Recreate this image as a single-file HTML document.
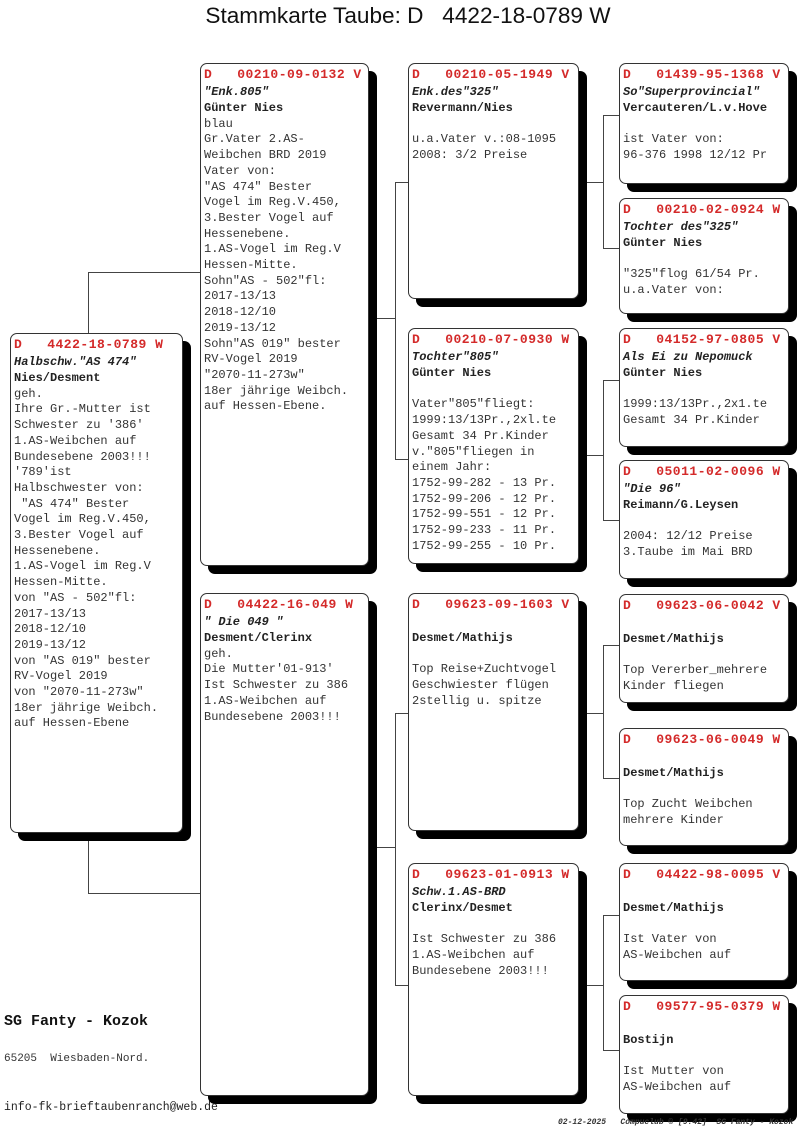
<!DOCTYPE html>
<html><head><meta charset="utf-8"><style>
body{margin:0;width:800px;height:1148px;background:#fff;position:relative;overflow:hidden;font-family:"Liberation Mono",monospace;}
.t{position:absolute;left:0;width:800px;padding-left:16px;box-sizing:border-box;top:3px;text-align:center;font-family:"Liberation Sans",sans-serif;font-size:22.6px;color:#111;white-space:pre;}
.b{position:absolute;border:1px solid #333;border-radius:7px;background:#fff;box-shadow:8px 8px 0 #000;box-sizing:border-box;padding:2px 0 0 3px;font-size:12px;color:#333;white-space:pre;overflow:hidden;}
.b .h{color:#d42a2a;font-weight:bold;font-size:13px;letter-spacing:0.5px;line-height:18px;height:18px;}
.b .i{font-style:italic;font-weight:bold;color:#222;line-height:17px;height:17px;}
.b .p{line-height:15.7px;}
.b .n{font-weight:bold;color:#222;}
.l{position:absolute;background:#444;}
.h1{height:1px}.v1{width:1px}
</style></head><body>
<div class="t">Stammkarte Taube: D   4422-18-0789 W</div>

<div class="l v1" style="left:88px;top:272px;height:62px"></div>
<div class="l h1" style="left:88px;top:272px;width:112px"></div>
<div class="l v1" style="left:88px;top:840px;height:53px"></div>
<div class="l h1" style="left:88px;top:893px;width:112px"></div>

<div class="l h1" style="left:376px;top:318px;width:19px"></div>
<div class="l v1" style="left:395px;top:182px;height:277px"></div>
<div class="l h1" style="left:395px;top:182px;width:13px"></div>
<div class="l h1" style="left:395px;top:459px;width:13px"></div>

<div class="l h1" style="left:376px;top:847px;width:19px"></div>
<div class="l v1" style="left:395px;top:713px;height:272px"></div>
<div class="l h1" style="left:395px;top:713px;width:13px"></div>
<div class="l h1" style="left:395px;top:985px;width:13px"></div>

<div class="l h1" style="left:586px;top:182px;width:17px"></div>
<div class="l v1" style="left:603px;top:115px;height:133px"></div>
<div class="l h1" style="left:603px;top:115px;width:16px"></div>
<div class="l h1" style="left:603px;top:248px;width:16px"></div>

<div class="l h1" style="left:586px;top:455px;width:17px"></div>
<div class="l v1" style="left:603px;top:380px;height:140px"></div>
<div class="l h1" style="left:603px;top:380px;width:16px"></div>
<div class="l h1" style="left:603px;top:520px;width:16px"></div>

<div class="l h1" style="left:586px;top:713px;width:17px"></div>
<div class="l v1" style="left:603px;top:645px;height:133px"></div>
<div class="l h1" style="left:603px;top:645px;width:16px"></div>
<div class="l h1" style="left:603px;top:778px;width:16px"></div>

<div class="l h1" style="left:586px;top:985px;width:17px"></div>
<div class="l v1" style="left:603px;top:915px;height:135px"></div>
<div class="l h1" style="left:603px;top:915px;width:16px"></div>
<div class="l h1" style="left:603px;top:1050px;width:16px"></div>

<div class="b" style="left:10px;top:333px;width:173px;height:500px"><div class="h">D   4422-18-0789 W</div><div class="i">Halbschw."AS 474"</div><div class="p"><span class="n">Nies/Desment</span>
geh.
Ihre Gr.-Mutter ist
Schwester zu '386'
1.AS-Weibchen auf
Bundesebene 2003!!!
'789'ist
Halbschwester von:
 "AS 474" Bester
Vogel im Reg.V.450,
3.Bester Vogel auf
Hessenebene.
1.AS-Vogel im Reg.V
Hessen-Mitte.
von "AS - 502"fl:
2017-13/13
2018-12/10
2019-13/12
von "AS 019" bester
RV-Vogel 2019
von "2070-11-273w"
18er jährige Weibch.
auf Hessen-Ebene</div></div>

<div class="b" style="left:200px;top:63px;width:169px;height:503px"><div class="h">D   00210-09-0132 V</div><div class="i">"Enk.805"</div><div class="p"><span class="n">Günter Nies</span>
blau
Gr.Vater 2.AS-
Weibchen BRD 2019
Vater von:
"AS 474" Bester
Vogel im Reg.V.450,
3.Bester Vogel auf
Hessenebene.
1.AS-Vogel im Reg.V
Hessen-Mitte.
Sohn"AS - 502"fl:
2017-13/13
2018-12/10
2019-13/12
Sohn"AS 019" bester
RV-Vogel 2019
"2070-11-273w"
18er jährige Weibch.
auf Hessen-Ebene.</div></div>
<div class="b" style="left:200px;top:593px;width:169px;height:503px"><div class="h">D   04422-16-049 W</div><div class="i">" Die 049 "</div><div class="p"><span class="n">Desment/Clerinx</span>
geh.
Die Mutter'01-913'
Ist Schwester zu 386
1.AS-Weibchen auf
Bundesebene 2003!!!</div></div>

<div class="b" style="left:408px;top:63px;width:171px;height:236px"><div class="h">D   00210-05-1949 V</div><div class="i">Enk.des"325"</div><div class="p"><span class="n">Revermann/Nies</span>

u.a.Vater v.:08-1095
2008: 3/2 Preise</div></div>
<div class="b" style="left:408px;top:328px;width:171px;height:236px"><div class="h">D   00210-07-0930 W</div><div class="i">Tochter"805"</div><div class="p"><span class="n">Günter Nies</span>

Vater"805"fliegt:
1999:13/13Pr.,2xl.te
Gesamt 34 Pr.Kinder
v."805"fliegen in
einem Jahr:
1752-99-282 - 13 Pr.
1752-99-206 - 12 Pr.
1752-99-551 - 12 Pr.
1752-99-233 - 11 Pr.
1752-99-255 - 10 Pr.</div></div>
<div class="b" style="left:408px;top:593px;width:171px;height:238px"><div class="h">D   09623-09-1603 V</div><div class="i"> </div><div class="p"><span class="n">Desmet/Mathijs</span>

Top Reise+Zuchtvogel
Geschwiester flügen
2stellig u. spitze</div></div>
<div class="b" style="left:408px;top:863px;width:171px;height:233px"><div class="h">D   09623-01-0913 W</div><div class="i">Schw.1.AS-BRD</div><div class="p"><span class="n">Clerinx/Desmet</span>

Ist Schwester zu 386
1.AS-Weibchen auf
Bundesebene 2003!!!</div></div>

<div class="b" style="left:619px;top:63px;width:170px;height:121px"><div class="h">D   01439-95-1368 V</div><div class="i">So"Superprovincial"</div><div class="p"><span class="n">Vercauteren/L.v.Hove</span>

ist Vater von:
96-376 1998 12/12 Pr</div></div>
<div class="b" style="left:619px;top:198px;width:170px;height:116px"><div class="h">D   00210-02-0924 W</div><div class="i">Tochter des"325"</div><div class="p"><span class="n">Günter Nies</span>

"325"flog 61/54 Pr.
u.a.Vater von:</div></div>
<div class="b" style="left:619px;top:328px;width:170px;height:119px"><div class="h">D   04152-97-0805 V</div><div class="i">Als Ei zu Nepomuck</div><div class="p"><span class="n">Günter Nies</span>

1999:13/13Pr.,2x1.te
Gesamt 34 Pr.Kinder</div></div>
<div class="b" style="left:619px;top:460px;width:170px;height:119px"><div class="h">D   05011-02-0096 W</div><div class="i">"Die 96"</div><div class="p"><span class="n">Reimann/G.Leysen</span>

2004: 12/12 Preise
3.Taube im Mai BRD</div></div>
<div class="b" style="left:619px;top:594px;width:170px;height:109px"><div class="h">D   09623-06-0042 V</div><div class="i"> </div><div class="p"><span class="n">Desmet/Mathijs</span>

Top Vererber_mehrere
Kinder fliegen</div></div>
<div class="b" style="left:619px;top:728px;width:170px;height:118px"><div class="h">D   09623-06-0049 W</div><div class="i"> </div><div class="p"><span class="n">Desmet/Mathijs</span>

Top Zucht Weibchen
mehrere Kinder</div></div>
<div class="b" style="left:619px;top:863px;width:170px;height:118px"><div class="h">D   04422-98-0095 V</div><div class="i"> </div><div class="p"><span class="n">Desmet/Mathijs</span>

Ist Vater von
AS-Weibchen auf</div></div>
<div class="b" style="left:619px;top:995px;width:170px;height:119px"><div class="h">D   09577-95-0379 W</div><div class="i"> </div><div class="p"><span class="n">Bostijn</span>

Ist Mutter von
AS-Weibchen auf</div></div>

<div style="position:absolute;left:4px;top:1013px;font-size:15px;font-weight:bold;color:#111;white-space:pre">SG Fanty - Kozok</div>
<div style="position:absolute;left:4px;top:1053px;font-size:11px;color:#333;white-space:pre">65205  Wiesbaden-Nord.</div>
<div style="position:absolute;left:4px;top:1101px;font-size:11.5px;color:#222;white-space:pre">info-fk-brieftaubenranch@web.de</div>
<div style="position:absolute;left:558px;top:1118px;font-size:8px;font-style:italic;font-weight:bold;color:#333;white-space:pre">02-12-2025   Compuclub © [9.42]  SG Fanty - Kozok</div>
</body></html>
